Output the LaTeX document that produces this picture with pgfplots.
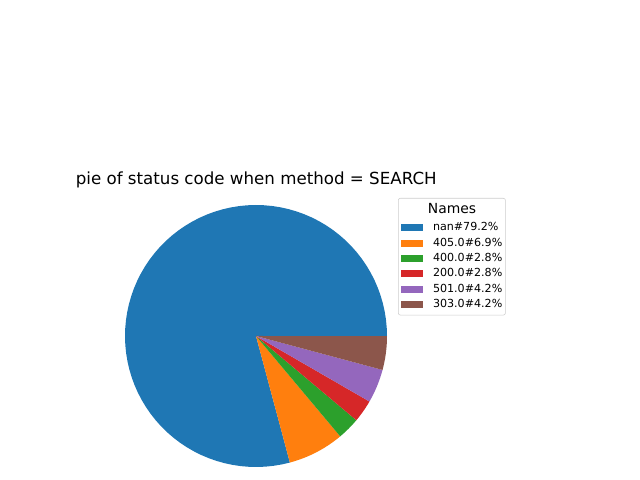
\documentclass[border=0pt]{standalone}
\usepackage{pgfplots}
\usepackage{pgfplotstable}
\pgfplotsset{compat=1.18}
\usepackage{fontspec}
\setmainfont{DejaVu Sans}

\definecolor{tabblue}{HTML}{1F77B4}
\definecolor{taborange}{HTML}{FF7F0E}
\definecolor{tabgreen}{HTML}{2CA02C}
\definecolor{tabred}{HTML}{D62728}
\definecolor{tabpurple}{HTML}{9467BD}
\definecolor{tabbrown}{HTML}{8C564B}

% status code counts (method = SEARCH)
\pgfplotstableread{
code count
nan 57
405.0 5
400.0 2
200.0 2
501.0 3
303.0 3
}\statustable

% total and cumulative angles (counter-clockwise from east)
\def\total{0}
\foreach \r in {0,...,5}{%
  \pgfplotstablegetelem{\r}{count}\of\statustable
  \pgfmathsetmacro\tmp{\total+\pgfplotsretval}%
  \xdef\total{\tmp}}
\def\cum{0}
\foreach \r/\n in {0/A,1/B,2/C,3/D,4/E,5/F}{%
  \pgfplotstablegetelem{\r}{count}\of\statustable
  \pgfmathsetmacro\e{\cum+360*(\pgfplotsretval/\total)}%
  \expandafter\xdef\csname start\n\endcsname{\cum}%
  \expandafter\xdef\csname end\n\endcsname{\e}%
  \xdef\cum{\e}}

\newcommand\slice[3]{%
  \addplot[fill=#3, draw=none, domain=#1:#2, samples=80, variable=\t]
    ({cos(\t)},{sin(\t)}) -- (axis cs:0,0) -- cycle;}

\begin{document}
\begin{tikzpicture}
\path[use as bounding box] (0,0) rectangle (460.8pt,345.6pt);
\begin{axis}[
  at={(184.32pt,103.68pt)}, anchor=center,
  x=94.32pt, y=94.32pt,
  xmin=-1, xmax=1, ymin=-1, ymax=1,
  hide axis, clip=false,
  legend image code/.code={\fill[#1, sharp corners] (0pt,-2.5pt) rectangle (15.8pt,2.5pt);},
  legend cell align=left,
  legend style={
    at={(1.042,1.0267)}, anchor=north west,
    draw=black!20, rounded corners=1.5pt, fill=white,
    font=\fontsize{8}{10}\selectfont,
    inner xsep=2.2pt, inner ysep=3.6pt,
    row sep=3.4pt, column sep=7pt,
    nodes={inner sep=0pt, text height=6pt, text depth=1.7pt},
  },
]
\addlegendimage{empty legend}
\addlegendentry[text height=7.5pt, text depth=2.8pt]{\makebox[27.4pt]{\fontsize{10}{12}\selectfont Names}}
\slice{\startA}{\endA}{tabblue}
\addlegendentry{nan\#79.2\%}
\slice{\startB}{\endB}{taborange}
\addlegendentry{405.0\#6.9\%}
\slice{\startC}{\endC}{tabgreen}
\addlegendentry{400.0\#2.8\%}
\slice{\startD}{\endD}{tabred}
\addlegendentry{200.0\#2.8\%}
\slice{\startE}{\endE}{tabpurple}
\addlegendentry{501.0\#4.2\%}
\slice{\startF}{\endF}{tabbrown}
\addlegendentry{303.0\#4.2\%}
\end{axis}
\node[anchor=base, font=\fontsize{12}{14}\selectfont, inner sep=0pt] at (184.5pt,213.1pt) {pie of status code when method = SEARCH};
\end{tikzpicture}
\end{document}
